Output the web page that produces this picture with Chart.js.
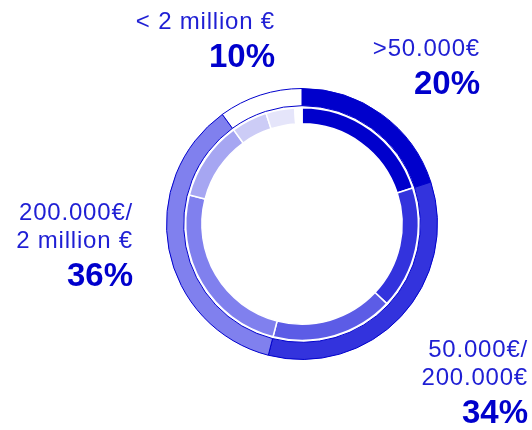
<!DOCTYPE html>
<html>
<head>
<meta charset="utf-8">
<script src="https://cdn.jsdelivr.net/npm/chart.js@4.4.0/dist/chart.umd.min.js"></script>
<style>
    html, body { margin: 0; padding: 0; background: #ffffff; }
    #wrap { width: 532px; height: 430px; }
</style>
</head>
<body>
<div id="wrap"><canvas id="chartIncome" width="532" height="430"></canvas></div>
<script>
// income bands, outer ring
const categories = ['>50.000€', '50.000€/200.000€', '200.000€/2 million €', '< 2 million €'];
const outerValues = [20, 34, 36, 10];
// finer split shown on the inner ring (last piece is the empty gap)
const innerValues = [20, 17, 17, 25, 11, 5, 4, 1];
// how each category label is broken into lines
const labelLines = [['>50.000€'], ['50.000€/', '200.000€'], ['200.000€/', '2 million €'], ['< 2 million €']];

const outerColors = ['#0000cc', '#3333dd', '#8080ee', '#ffffff'];
const innerColors = ['#0000cc', '#3333dd', '#5c5ce6', '#8080ee', '#a6a6f2', '#ccccf6', '#e5e5fa', 'rgba(0,0,0,0)'];

// right edge + first baseline of every label block
const labelAnchors = [
    { x: 480, y: 56 },
    { x: 528, y: 357 },
    { x: 133, y: 220 },
    { x: 275, y: 29 }
];

const sliceLabels = {
    id: 'sliceLabels',
    afterDraw(chart) {
        const ctx = chart.ctx;
        ctx.save();
        ctx.textAlign = 'right';
        ctx.textBaseline = 'alphabetic';
        labelAnchors.forEach((a, i) => {
            const lines = labelLines[i];
            ctx.font = '24px "Liberation Sans", Arial, sans-serif';
            ctx.fillStyle = '#1f1fd4';
            ctx.letterSpacing = '0.8px';
            lines.forEach((line, j) => {
                ctx.fillText(line, a.x, a.y + j * 28);
            });
            ctx.letterSpacing = '0px';
            ctx.font = 'bold 33px "Liberation Sans", Arial, sans-serif';
            ctx.fillStyle = '#0000cc';
            ctx.fillText(outerValues[i] + '%', a.x, a.y + (lines.length - 1) * 28 + 38);
        });
        ctx.restore();
    }
};

function drawChart() {
    const ctx = document.getElementById('chartIncome').getContext('2d');
    new Chart(ctx, {
        type: 'doughnut',
        data: {
            labels: categories,
            datasets: [
                {
                    data: outerValues,
                    backgroundColor: outerColors,
                    borderColor: '#0000cc',
                    borderWidth: 1,
                    weight: 17
                },
                {
                    data: [1],
                    backgroundColor: 'rgba(0,0,0,0)',
                    borderWidth: 0,
                    weight: 2
                },
                {
                    data: innerValues,
                    backgroundColor: innerColors,
                    borderColor: '#ffffff',
                    borderWidth: 1.5,
                    weight: 16
                }
            ]
        },
        options: {
            responsive: false,
            animation: false,
            cutout: '73.9%',
            layout: {
                padding: { left: 166, right: 94, top: 88, bottom: 70 }
            },
            plugins: {
                legend: { display: false },
                tooltip: { enabled: false }
            }
        },
        plugins: [sliceLabels]
    });
}

document.addEventListener('DOMContentLoaded', drawChart);
</script>
</body>
</html>
